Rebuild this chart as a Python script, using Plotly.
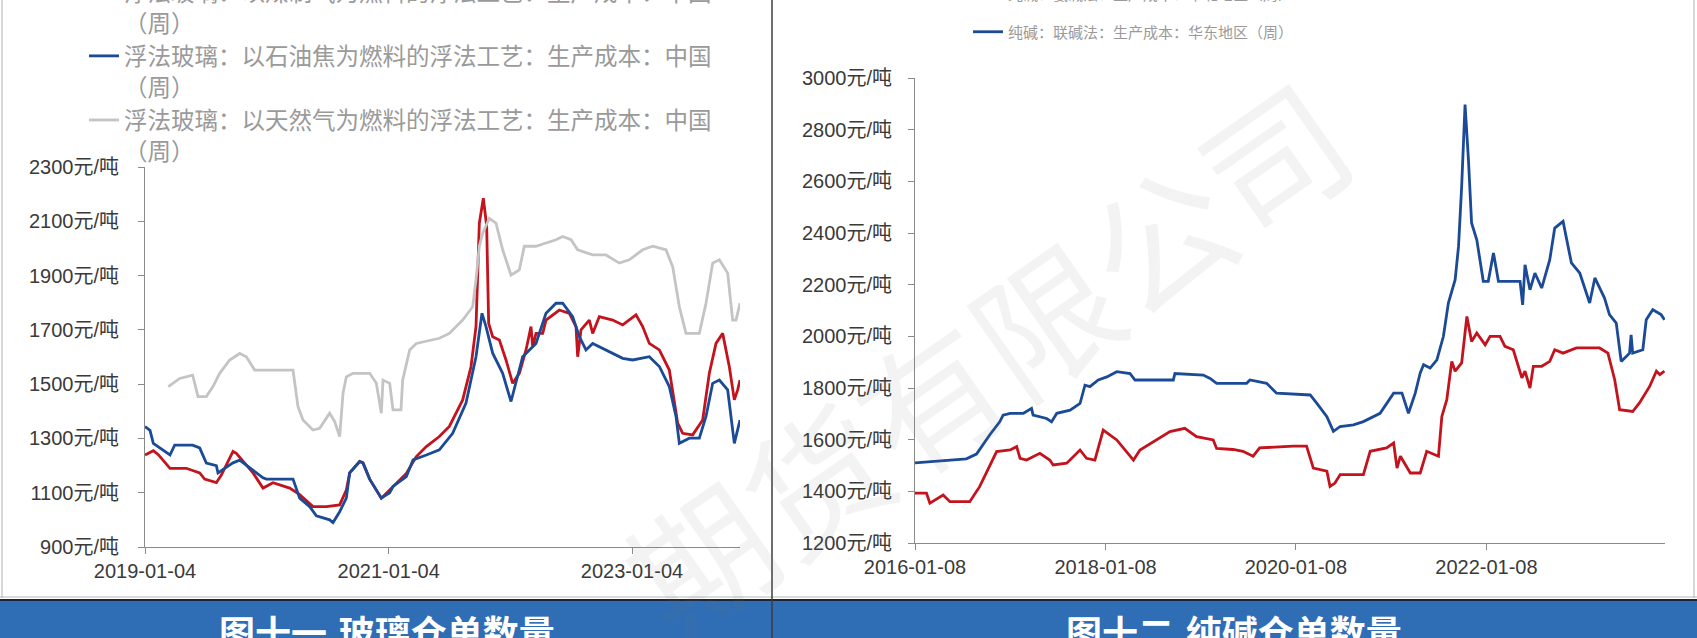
import plotly.graph_objects as go

# ---------------- data: left chart (float glass production cost, weekly) ----------------
glass_coal_dates = ["2019-01-04","2019-01-29","2019-02-13","2019-03-20","2019-05-08","2019-06-17","2019-07-02","2019-08-06","2019-08-21","2019-09-25",
    "2019-10-05","2019-10-25","2019-11-24","2019-12-24","2020-01-23","2020-03-13","2020-04-12","2020-05-22","2020-07-01","2020-08-10",
    "2020-08-30","2020-09-09","2020-10-09","2020-10-19","2020-11-08","2020-12-13","2021-01-17","2021-02-26","2021-03-28","2021-04-27",
    "2021-06-05","2021-07-05","2021-08-14","2021-09-08","2021-09-23","2021-10-03","2021-10-15","2021-10-25","2021-10-31","2021-11-12",
    "2021-12-02","2021-12-22","2022-01-11","2022-01-31","2022-02-20","2022-03-07","2022-03-12","2022-03-22","2022-04-11","2022-04-21",
    "2022-05-31","2022-06-30","2022-07-20","2022-07-25","2022-08-04","2022-08-29","2022-09-08","2022-09-28","2022-11-07","2022-12-07",
    "2023-01-16","2023-02-05","2023-02-25","2023-03-27","2023-04-26","2023-05-21","2023-06-05","2023-07-05","2023-08-04","2023-08-24",
    "2023-09-13","2023-10-03","2023-10-23","2023-11-07","2023-11-17","2023-11-24"]
glass_coal = [1239,1255,1240,1190,1190,1173,1150,1137,1165,1252,
    1245,1215,1173,1117,1137,1117,1093,1049,1049,1055,
    1110,1173,1215,1210,1150,1080,1123,1171,1233,1270,
    1307,1344,1442,1564,1712,2093,2185,2082,1724,1675,
    1663,1589,1503,1540,1626,1712,1638,1687,1687,1736,
    1773,1761,1712,1601,1700,1736,1687,1749,1736,1718,
    1755,1712,1650,1626,1552,1356,1319,1313,1368,1540,
    1650,1687,1564,1442,1479,1515]

glass_coke_dates = ["2019-01-04","2019-01-19","2019-01-29","2019-03-20","2019-04-03","2019-05-27","2019-06-17","2019-07-07","2019-08-06","2019-08-11",
    "2019-08-31","2019-09-25","2019-10-15","2019-11-24","2019-12-24","2020-01-03","2020-03-23","2020-04-12","2020-05-12","2020-06-01",
    "2020-07-11","2020-07-21","2020-08-10","2020-08-30","2020-09-09","2020-10-09","2020-10-19","2020-11-08","2020-12-13","2021-01-07",
    "2021-01-17","2021-02-26","2021-03-18","2021-04-27","2021-06-05","2021-07-15","2021-08-24","2021-09-23","2021-10-11","2021-10-23",
    "2021-11-12","2021-12-12","2022-01-06","2022-02-10","2022-03-22","2022-04-21","2022-05-21","2022-06-10","2022-07-10","2022-07-30",
    "2022-08-19","2022-09-08","2022-10-18","2022-12-07","2023-01-06","2023-02-25","2023-03-27","2023-04-26","2023-05-16","2023-05-26",
    "2023-06-25","2023-07-25","2023-08-14","2023-09-03","2023-09-23","2023-10-18","2023-11-07","2023-11-24"]
glass_coke = [1344,1330,1282,1239,1275,1275,1265,1209,1200,1173,
    1190,1210,1220,1184,1155,1150,1150,1080,1049,1015,
    1000,990,1030,1080,1173,1215,1210,1150,1080,1100,
    1123,1159,1221,1239,1258,1319,1430,1601,1761,1712,
    1614,1540,1436,1601,1650,1761,1798,1798,1749,1675,
    1626,1650,1626,1595,1589,1601,1565,1491,1381,1282,
    1301,1301,1381,1503,1515,1479,1282,1368]

glass_gas_dates = ["2019-03-15","2019-04-18","2019-05-27","2019-06-12","2019-07-07","2019-07-27","2019-08-16","2019-09-15","2019-10-15","2019-11-04",
    "2019-11-29","2020-03-23","2020-04-07","2020-04-22","2020-05-22","2020-06-11","2020-07-11","2020-07-26","2020-08-10","2020-08-20",
    "2020-08-30","2020-09-19","2020-11-08","2020-11-28","2020-12-13","2020-12-18","2021-01-07","2021-01-17","2021-02-10","2021-02-15",
    "2021-03-08","2021-03-28","2021-06-05","2021-07-05","2021-08-14","2021-09-13","2021-09-23","2021-10-03","2021-10-13","2021-11-02",
    "2021-11-22","2021-12-12","2022-01-06","2022-01-31","2022-02-15","2022-03-22","2022-04-21","2022-05-21","2022-06-10","2022-07-05",
    "2022-07-25","2022-09-08","2022-10-18","2022-11-27","2022-12-27","2023-02-05","2023-03-07","2023-04-16","2023-05-06","2023-05-26",
    "2023-06-15","2023-07-25","2023-08-14","2023-09-03","2023-09-23","2023-10-18","2023-11-02","2023-11-12","2023-11-24"]
glass_gas = [1491,1521,1533,1454,1454,1491,1540,1589,1613,1601,
    1552,1552,1417,1368,1331,1337,1393,1362,1307,1466,
    1527,1540,1540,1503,1393,1515,1503,1405,1405,1515,
    1626,1650,1669,1687,1736,1785,1884,2008,2056,2111,
    2093,1995,1902,1921,2008,2008,2020,2032,2044,2032,
    1995,1976,1976,1946,1958,1995,2008,1995,1933,1785,
    1687,1687,1798,1946,1958,1909,1736,1736,1798]

# ---------------- data: right chart (soda ash production cost, weekly) ----------------
soda_ammonia_dates = ["2016-01-08","2016-02-21","2016-03-05","2016-04-25","2016-05-21","2016-08-05","2016-09-12","2016-10-21","2016-11-16","2017-01-07",
    "2017-02-01","2017-02-14","2017-03-11","2017-05-01","2017-06-08","2017-06-21","2017-08-12","2017-10-02","2017-10-27","2017-11-28",
    "2017-12-30","2018-02-20","2018-04-25","2018-05-20","2018-07-10","2018-09-12","2018-11-08","2018-12-23","2019-02-25","2019-03-10",
    "2019-05-12","2019-06-19","2019-07-28","2019-08-22","2019-12-29","2020-02-18","2020-03-15","2020-05-06","2020-05-18","2020-06-06",
    "2020-06-26","2020-09-23","2020-10-19","2020-12-21","2021-01-17","2021-01-30","2021-02-12","2021-03-22","2021-04-29","2021-05-24",
    "2021-07-08","2021-07-21","2021-08-09","2021-08-28","2021-09-10","2021-10-05","2021-10-25","2021-11-12","2021-12-02","2022-01-03",
    "2022-01-22","2022-03-01","2022-03-20","2022-04-21","2022-05-24","2022-06-05","2022-06-24","2022-07-07","2022-08-08","2022-09-08",
    "2022-09-27","2022-10-29","2022-12-19","2023-03-18","2023-04-19","2023-05-15","2023-06-03","2023-07-23","2023-08-18","2023-09-26",
    "2023-10-22","2023-11-04","2023-11-22"]
soda_ammonia = [1393,1393,1354,1386,1360,1360,1418,1496,1554,1560,
    1573,1528,1521,1547,1521,1502,1509,1560,1528,1521,
    1637,1599,1521,1560,1592,1631,1644,1612,1599,1566,
    1562,1555,1536,1568,1575,1575,1490,1478,1419,1432,
    1465,1465,1555,1568,1587,1490,1536,1471,1471,1555,
    1536,1690,1755,1903,1865,1897,2077,1980,2013,1967,
    2000,2000,1961,1948,1839,1865,1800,1884,1884,1903,
    1948,1935,1955,1955,1935,1832,1716,1709,1742,1806,
    1865,1852,1865]

soda_joint_dates = ["2016-01-08","2016-03-05","2016-05-08","2016-07-23","2016-08-31","2016-10-21","2016-11-28","2016-12-11","2017-01-07","2017-02-27",
    "2017-03-30","2017-04-05","2017-05-27","2017-06-15","2017-07-05","2017-08-25","2017-10-02","2017-10-21","2017-11-09","2017-12-11",
    "2018-01-13","2018-02-20","2018-04-12","2018-05-01","2018-09-25","2018-10-01","2019-01-18","2019-02-13","2019-03-10","2019-07-03",
    "2019-07-16","2019-09-18","2019-10-26","2020-03-03","2020-03-28","2020-05-06","2020-05-31","2020-06-26","2020-08-16","2020-09-23",
    "2020-11-26","2021-01-17","2021-02-18","2021-03-15","2021-04-10","2021-04-29","2021-05-12","2021-06-06","2021-07-02","2021-07-27",
    "2021-08-15","2021-09-10","2021-09-23","2021-10-05","2021-10-18","2021-10-31","2021-11-12","2021-12-02","2021-12-27","2022-01-15",
    "2022-02-04","2022-02-23","2022-05-17","2022-05-27","2022-06-05","2022-06-24","2022-07-13","2022-08-08","2022-09-08","2022-09-27",
    "2022-10-29","2022-11-30","2023-01-01","2023-02-08","2023-02-28","2023-04-06","2023-04-25","2023-05-21","2023-06-09","2023-07-11",
    "2023-07-17","2023-07-23","2023-08-31","2023-09-13","2023-10-08","2023-11-09","2023-11-22"]
soda_joint = [1510,1514,1518,1526,1544,1619,1669,1695,1702,1702,
    1721,1695,1682,1669,1702,1714,1740,1811,1805,1831,
    1843,1863,1856,1831,1831,1856,1850,1837,1818,1818,
    1831,1818,1780,1773,1741,1689,1632,1651,1657,1670,
    1702,1780,1780,1702,1780,1858,1890,1877,1909,2000,
    2129,2219,2348,2580,2897,2684,2439,2374,2213,2213,
    2323,2213,2213,2122,2277,2180,2245,2187,2297,2419,
    2445,2284,2245,2129,2226,2148,2084,2051,1903,1935,
    2006,1935,1948,2064,2103,2084,2064]

left_ticks = [900, 1100, 1300, 1500, 1700, 1900, 2100, 2300]
right_ticks = [1200, 1400, 1600, 1800, 2000, 2200, 2400, 2600, 2800, 3000]
left_xticks = ["2019-01-04", "2021-01-04", "2023-01-04"]
right_xticks = ["2016-01-08", "2018-01-08", "2020-01-08", "2022-01-08"]

names_left = ["浮法玻璃：以煤制气为燃料的浮法工艺：生产成本：中国<br>（周）",
              "浮法玻璃：以石油焦为燃料的浮法工艺：生产成本：中国<br>（周）",
              "浮法玻璃：以天然气为燃料的浮法工艺：生产成本：中国<br>（周）"]
names_right = ["纯碱：氨碱法：生产成本：华北地区（周）",
               "纯碱：联碱法：生产成本：华东地区（周）"]
titles = ["图十一.玻璃仓单数量", "图十二.纯碱仓单数量"]

RED = "#c3131d"
BLUE = "#1b4a96"
GRAY = "#c4c4c4"
AXIS = "#8a8a8a"
W, H = 1697, 638
LW = 2.8

fig = go.Figure()
fig.add_trace(go.Scatter(x=glass_coal_dates, y=glass_coal, mode="lines", name=names_left[0],
                         line=dict(color=RED, width=LW), xaxis="x", yaxis="y", legend="legend", legendgroup="a"))
fig.add_trace(go.Scatter(x=glass_coke_dates, y=glass_coke, mode="lines", name=names_left[1],
                         line=dict(color=BLUE, width=LW), xaxis="x", yaxis="y", legend="legend", legendgroup="b"))
fig.add_trace(go.Scatter(x=glass_gas_dates, y=glass_gas, mode="lines", name=names_left[2],
                         line=dict(color=GRAY, width=LW), xaxis="x", yaxis="y", legend="legend", legendgroup="c"))
fig.add_trace(go.Scatter(x=soda_ammonia_dates, y=soda_ammonia, mode="lines", name=names_right[0],
                         line=dict(color=RED, width=LW), xaxis="x2", yaxis="y2", legend="legend2", legendgroup="d"))
fig.add_trace(go.Scatter(x=soda_joint_dates, y=soda_joint, mode="lines", name=names_right[1],
                         line=dict(color=BLUE, width=LW), xaxis="x2", yaxis="y2", legend="legend2", legendgroup="e"))

tickfont = dict(family="Liberation Sans, Noto Sans CJK SC", size=20, color="#3a3a3a")

def px_x(p):
    return p / W

def px_y(p):
    return (H - p) / H

axis_common = dict(showgrid=False, zeroline=False, showline=True, linecolor=AXIS, linewidth=1,
                   ticks="outside", ticklen=6, tickcolor=AXIS, tickfont=tickfont)

fig.update_layout(
    width=W, height=H, autosize=False,
    margin=dict(l=0, r=0, t=0, b=0, autoexpand=False),
    paper_bgcolor="white", plot_bgcolor="white",
    showlegend=True,
    xaxis=dict(domain=[px_x(145), px_x(740)], type="date", range=["2019-01-04", "2023-11-24"],
               tickvals=left_xticks, ticktext=left_xticks, anchor="y", **axis_common),
    yaxis=dict(domain=[px_y(547), px_y(167)], range=[900, 2300], tickvals=left_ticks,
               ticktext=[f"{v}元/吨" for v in left_ticks], anchor="x", ticklabelstandoff=15, **axis_common),
    xaxis2=dict(domain=[px_x(915), px_x(1665)], type="date", range=["2016-01-08", "2023-11-24"],
                tickvals=right_xticks, ticktext=right_xticks, anchor="y2", **axis_common),
    yaxis2=dict(domain=[px_y(543), px_y(78)], range=[1200, 3000], tickvals=right_ticks,
                ticktext=[f"{v}元/吨" for v in right_ticks], anchor="x2", ticklabelstandoff=12, **axis_common),
    legend=dict(x=px_x(84), xanchor="left", y=1 + 30 / H, yanchor="top", bgcolor="rgba(0,0,0,0)",
                font=dict(family="Noto Sans CJK SC", size=23.5, color="#9a9a9a"), valign="top",
                traceorder="grouped", tracegroupgap=0),
    legend2=dict(x=px_x(968), xanchor="left", y=1 + 22 / H, yanchor="top", bgcolor="rgba(0,0,0,0)",
                 font=dict(family="Noto Sans CJK SC", size=15, color="#9a9a9a"), valign="middle",
                 traceorder="grouped", tracegroupgap=15),
)

shapes = [
    # panel borders
    dict(type="line", xref="paper", yref="paper", x0=px_x(2), x1=px_x(2), y0=px_y(0), y1=px_y(598),
         line=dict(color="#b0b0b0", width=1)),
    dict(type="line", xref="paper", yref="paper", x0=px_x(1694), x1=px_x(1694), y0=px_y(0), y1=px_y(598),
         line=dict(color="#b0b0b0", width=1)),
    dict(type="line", xref="paper", yref="paper", x0=0, x1=1, y0=px_y(597), y1=px_y(597),
         line=dict(color="#b8b8b8", width=1)),
    # blue caption bar
    dict(type="rect", xref="paper", yref="paper", x0=0, x1=1, y0=0, y1=px_y(600),
         fillcolor="#2f6db4", line=dict(width=0), layer="above"),
    dict(type="line", xref="paper", yref="paper", x0=0, x1=1, y0=px_y(600), y1=px_y(600),
         line=dict(color="#1c2536", width=2)),
    # vertical separator
    dict(type="line", xref="paper", yref="paper", x0=px_x(772), x1=px_x(772), y0=0, y1=1,
         line=dict(color="#3c3c3c", width=1.5)),
]
fig.update_layout(shapes=shapes)

annotations = [
    dict(text="期货有限公司", xref="paper", yref="paper", x=px_x(985), y=px_y(355),
         xanchor="center", yanchor="middle", showarrow=False, textangle=-35,
         font=dict(family="Noto Sans CJK SC", size=140, color="rgba(120,120,120,0.09)")),
    dict(text=titles[0], xref="paper", yref="paper", x=px_x(387), y=px_y(603), xanchor="center", yanchor="top",
         showarrow=False, font=dict(family="Noto Sans CJK SC", size=36, color="white", weight="bold")),
    dict(text=titles[1], xref="paper", yref="paper", x=px_x(1234), y=px_y(603), xanchor="center", yanchor="top",
         showarrow=False, font=dict(family="Noto Sans CJK SC", size=36, color="white", weight="bold")),
]
fig.update_layout(annotations=annotations)

fig.write_html("out.html", include_plotlyjs=True, config={"displayModeBar": False},
               post_script="document.body.style.margin='0';document.body.style.overflow='hidden';")
